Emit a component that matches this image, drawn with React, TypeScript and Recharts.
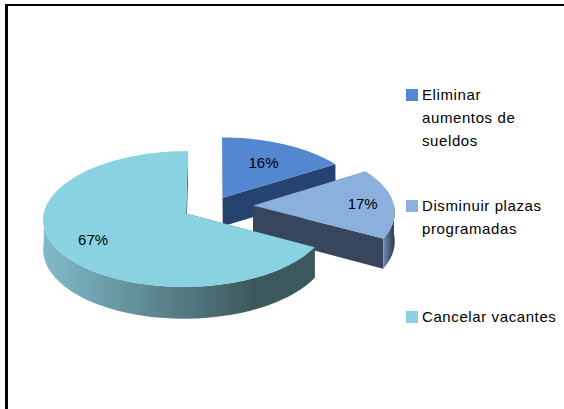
import { Cell, Legend, Pie, PieChart } from "recharts";

const CATEGORIES = ["Eliminar\naumentos de\nsueldos", "Disminuir plazas\nprogramadas", "Cancelar vacantes"];
const VALUES = [16, 17, 67];

const TOP_COLORS = ["#5387d1", "#8cb0de", "#88d2e2"];
const EDGE_COLORS = ["#264270", "#37465c", "#3f5d62"];
const WALL_COLORS = [
  ["#5f86b8", "#264270"],
  ["#6f8fb8", "#37465c"],
  ["#80bbc9", "#3c585c"],
];
// per-slice explosion and label distance, in pie radii
const EXPLODE = [0.145, 0.285, 0.22];
const LABEL_RADIUS = [0.64, 0.78, 0.73];
const LEGEND_TOPS = [83, 194, 305];

const WIDTH = 564;
const HEIGHT = 409;
const SQUASH = 0.47;
const PERSPECTIVE = 0.08;
const DEPTH = 29;
const FONT = "'Liberation Sans', sans-serif";

// Tilted-disc projection: plane coords in radii, y pointing away from viewer.
function project(cx: number, cy: number, r: number, px: number, py: number) {
  const s = 1 / (1 + PERSPECTIVE * py);
  return { x: cx + r * px * s, y: cy - r * SQUASH * py * s, s };
}

function arcPoints(a0: number, a1: number) {
  const pts: number[] = [];
  const n = Math.max(2, Math.ceil(Math.abs(a1 - a0) / 3));
  for (let i = 0; i <= n; i++) pts.push(a0 + ((a1 - a0) * i) / n);
  return pts;
}

const rad = (d: number) => (d * Math.PI) / 180;

function Slice3D(props: any) {
  const { cx, cy, outerRadius: r, startAngle, endAngle, index, fill } = props;
  // recharts angles are counter-clockwise from 3 o'clock, turn into clockwise from 12
  const t0 = 90 - startAngle;
  const t1 = 90 - endAngle;
  const mid = (t0 + t1) / 2;
  const ox = Math.sin(rad(mid)) * EXPLODE[index];
  const oy = Math.cos(rad(mid)) * EXPLODE[index];
  const at = (t: number) => project(cx, cy, r, ox + Math.sin(rad(t)), oy + Math.cos(rad(t)));
  const apex = project(cx, cy, r, ox, oy);
  const rim = arcPoints(t0, t1).map(at);
  const top = `M${apex.x},${apex.y} ` + rim.map((p) => `L${p.x},${p.y}`).join(" ") + " Z";

  const edge = (t: number) => {
    const p = at(t);
    return `M${apex.x},${apex.y} L${p.x},${p.y} L${p.x},${p.y + DEPTH * p.s} L${apex.x},${apex.y + DEPTH * apex.s} Z`;
  };

  // only the front part of the rim shows a wall
  const f0 = Math.max(t0, 90);
  const f1 = Math.min(t1, 270);
  let wall = "";
  let wx0 = 0;
  let wx1 = 0;
  if (f1 > f0) {
    const front = arcPoints(f0, f1).map(at);
    const xs = front.map((p) => p.x);
    wx0 = Math.min(...xs);
    wx1 = Math.max(...xs);
    wall =
      front.map((p, i) => `${i ? "L" : "M"}${p.x},${p.y}`).join(" ") +
      " " +
      [...front].reverse().map((p) => `L${p.x},${p.y + DEPTH * p.s}`).join(" ") +
      " Z";
  }
  const gid = `wall-${index}`;

  return (
    <g>
      {wall && (
        <defs>
          <linearGradient id={gid} gradientUnits="userSpaceOnUse" x1={wx1} x2={wx0} y1={0} y2={0}>
            <stop offset="0%" stopColor={WALL_COLORS[index][1]} />
            <stop offset="22%" stopColor={WALL_COLORS[index][1]} />
            <stop offset="100%" stopColor={WALL_COLORS[index][0]} />
          </linearGradient>
        </defs>
      )}
      <path d={edge(t0)} fill={EDGE_COLORS[index]} />
      <path d={edge(t1)} fill={EDGE_COLORS[index]} />
      {wall && <path d={wall} fill={`url(#${gid})`} />}
      <path d={top} fill={fill} />
    </g>
  );
}

function renderLabel(props: any) {
  const { cx, cy, outerRadius: r, midAngle, index, percent } = props;
  const t = 90 - midAngle;
  const k = EXPLODE[index] + LABEL_RADIUS[index];
  const p = project(cx, cy, r, Math.sin(rad(t)) * k, Math.cos(rad(t)) * k);
  return (
    <text x={p.x} y={p.y} textAnchor="middle" dominantBaseline="central" fontFamily={FONT} fontSize={15} fill="#000">
      {`${Math.round(percent * 100)}%`}
    </text>
  );
}

function renderLegend(props: any) {
  const { payload } = props;
  return (
    <div style={{ position: "relative", width: WIDTH, height: HEIGHT }}>
      {(payload || []).map((item: any, i: number) => (
        <div key={i} style={{ position: "absolute", left: 406, top: LEGEND_TOPS[i], display: "flex" }}>
          <div style={{ width: 12, height: 12, marginTop: 6, marginRight: 4, background: TOP_COLORS[i] }} />
          <div
            style={{
              whiteSpace: "pre-line",
              fontFamily: FONT,
              fontSize: 15,
              lineHeight: "23px",
              letterSpacing: 0.6,
              color: "#000",
            }}
          >
            {item.value}
          </div>
        </div>
      ))}
    </div>
  );
}

const data = CATEGORIES.map((name, i) => ({ name, value: VALUES[i] }));

export default function App() {
  return (
    <div style={{ position: "absolute", left: 0, top: 0, width: WIDTH, height: HEIGHT, overflow: "hidden", background: "#fff" }}>
      <div
        style={{
          position: "absolute",
          left: 5,
          top: 4,
          width: WIDTH,
          height: HEIGHT,
          borderLeft: "3px solid #000",
          borderTop: "2px solid #000",
        }}
      />
      <PieChart width={WIDTH} height={HEIGHT} margin={{ top: 0, right: 0, bottom: 0, left: 0 }} style={{ position: "absolute", left: 0, top: 0 }}>
        <Pie
          data={data}
          dataKey="value"
          nameKey="name"
          cx={213}
          cy={206}
          innerRadius={0}
          outerRadius={141}
          startAngle={90}
          endAngle={-270}
          paddingAngle={0}
          stroke="none"
          shape={Slice3D}
          label={renderLabel}
          labelLine={false}
          isAnimationActive={false}
        >
          {CATEGORIES.map((c, i) => (
            <Cell key={c} fill={TOP_COLORS[i]} />
          ))}
        </Pie>
        <Legend itemSorter={null} content={renderLegend} wrapperStyle={{ left: 0, top: 0, width: WIDTH, height: HEIGHT }} />
      </PieChart>
    </div>
  );
}
